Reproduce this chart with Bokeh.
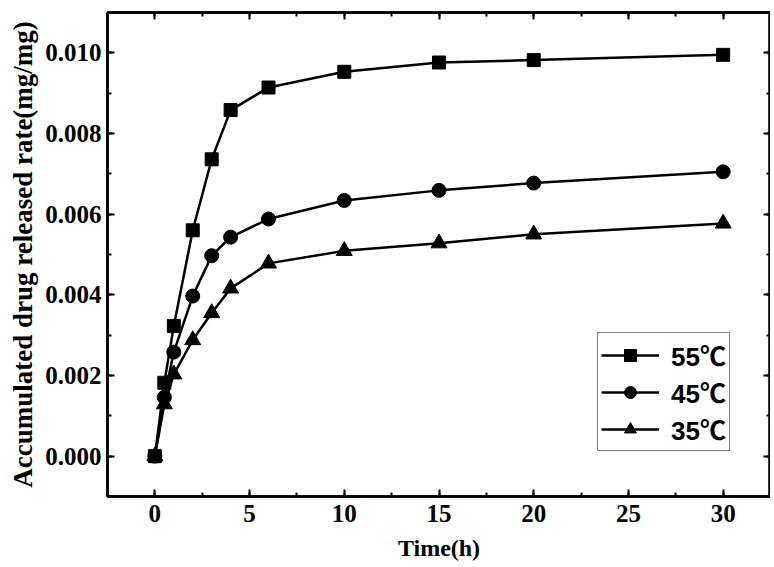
from bokeh.plotting import figure
from bokeh.models import LinearAxis, Range1d, Legend, LegendItem, SingleIntervalTicker, CustomJSTickFormatter
from bokeh.embed import file_html
from bokeh.resources import INLINE

time_h = [0, 0.5, 1, 2, 3, 4, 6, 10, 15, 20, 30]
rate_55 = [0.0, 0.00182, 0.00323, 0.00560, 0.00736, 0.00858, 0.00914, 0.00953, 0.00976, 0.00982, 0.00995]
rate_45 = [0.0, 0.00146, 0.00258, 0.00397, 0.00497, 0.00543, 0.00588, 0.00634, 0.00659, 0.00677, 0.00705]
rate_35 = [0.0, 0.00129, 0.00203, 0.00288, 0.00355, 0.00416, 0.00478, 0.00509, 0.00528, 0.00550, 0.00577]
labels = ["55\u2103", "45\u2103", "35\u2103"]

SERIF = "Liberation Serif"

p = figure(frame_width=663, frame_height=484, output_backend="svg", toolbar_location=None,
           x_range=Range1d(-2.5, 32.5), y_range=Range1d(-0.001, 0.011),
           min_border_left=107, min_border_right=0, min_border_top=12, min_border_bottom=68)
p.grid.visible = False
p.outline_line_color = "black"
p.outline_line_width = 2.5
p.background_fill_color = "white"
p.border_fill_color = "white"

def style_axis(ax):
    ax.axis_line_width = 2.5
    ax.axis_line_color = "black"
    ax.major_tick_in = 7
    ax.major_tick_out = 0
    ax.minor_tick_in = 4
    ax.minor_tick_out = 0
    ax.major_tick_line_width = 2
    ax.minor_tick_line_width = 2
    ax.major_label_text_font = SERIF
    ax.major_label_text_font_style = "bold"
    ax.major_label_text_font_size = "25px"
    ax.major_label_text_color = "black"
    ax.axis_label_text_font = SERIF
    ax.axis_label_text_font_style = "bold"
    ax.axis_label_text_color = "black"

p.xaxis.ticker = SingleIntervalTicker(interval=5, num_minor_ticks=2)
p.yaxis.ticker = SingleIntervalTicker(interval=0.002, num_minor_ticks=2)
p.xaxis.axis_label = "Time(h)"
p.yaxis.axis_label = "Accumulated drug released rate(mg/mg)"
p.yaxis.formatter = CustomJSTickFormatter(code="return tick.toFixed(3);")
for ax in p.xaxis + p.yaxis:
    style_axis(ax)
p.xaxis.axis_label_text_font_size = "24px"
p.yaxis.axis_label_text_font_size = "27px"
p.xaxis.major_label_standoff = 8
p.yaxis.major_label_standoff = 6
p.xaxis.axis_label_standoff = 10
p.yaxis.axis_label_standoff = 4

blank = CustomJSTickFormatter(code="return '';")
top = LinearAxis(ticker=SingleIntervalTicker(interval=5, num_minor_ticks=2), formatter=blank)
right = LinearAxis(ticker=SingleIntervalTicker(interval=0.002, num_minor_ticks=2), formatter=blank)
for ax in (top, right):
    style_axis(ax)
    ax.major_label_standoff = 0
    ax.axis_label_standoff = 0
p.add_layout(top, "above")
p.add_layout(right, "right")

items = []
series = [(rate_55, "square", 13), (rate_45, "circle", 14), (rate_35, "triangle", 16)]
for (vals, marker, size), lab in zip(series, labels):
    l = p.line(time_h, vals, line_color="black", line_width=2.5)
    s = p.scatter(time_h, vals, marker=marker, size=size, fill_color="black", line_color="black")
    items.append(LegendItem(label=lab, renderers=[l, s]))

legend = Legend(items=items, location=(490, 45))
legend.label_text_font = "Liberation Sans, 'Noto Sans CJK SC'"
legend.label_text_font_style = "bold"
legend.label_text_font_size = "26px"
legend.label_text_color = "black"
legend.glyph_width = 58
legend.glyph_height = 30
legend.label_height = 30
legend.spacing = 0
legend.padding = 3
legend.margin = 0
legend.label_standoff = 12
legend.border_line_color = "black"
legend.border_line_width = 1.5
legend.background_fill_alpha = 1
p.add_layout(legend, "center")

open("out.html", "w").write(file_html(p, INLINE))
